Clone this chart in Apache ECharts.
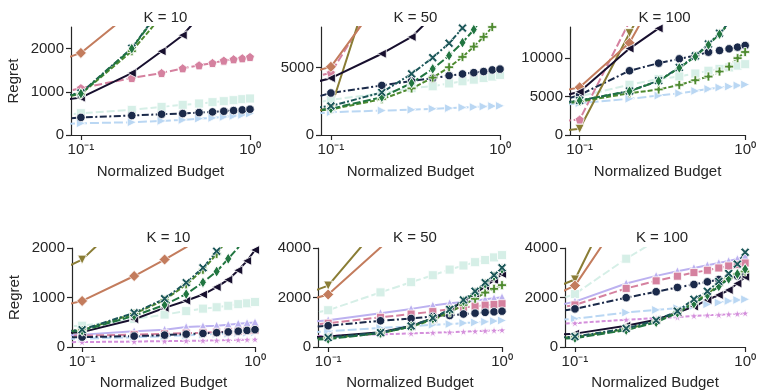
<!DOCTYPE html>
<html>
<head>
<meta charset="utf-8">
<script src="https://cdn.jsdelivr.net/npm/echarts@6/dist/echarts.min.js"></script>
<style>
html,body{margin:0;padding:0;background:#fff;}
#c{width:759px;height:391px;}
</style>
</head>
<body>
<div id="c"></div>
<script>
// ---------- data ----------
const budgets = [0.05, 0.1, 0.2, 0.3, 0.4, 0.5, 0.6, 0.7, 0.8, 0.9, 1.0];
const xTicks = [0.1, 1];
const xTickLabels = ['10\u207B\u00B9', '10\u2070'];
const titles = ['K = 10', 'K = 50', 'K = 100', 'K = 10', 'K = 50', 'K = 100'];
const yMax = [2500, 8000, 14000, 2000, 4000, 4000];
const yTicks = [[0, 1000, 2000], [0, 5000], [0, 5000, 10000], [0, 1000, 2000], [0, 2000, 4000], [0, 2000, 4000]];

// top row, K = 10
const t1_mint  = [385, 504, 581, 651, 698, 729, 760, 783, 806, 829, 845];
const t1_lblue = [230, 271, 295, 326, 349, 380, 395, 419, 442, 465, 496];
const t1_pink  = [800, 1085, 1318, 1434, 1543, 1612, 1667, 1721, 1752, 1775, 1806];
const t1_navy  = [310, 407, 450, 481, 496, 519, 535, 550, 566, 581, 597];
const t1_brown = [1490, 1900, 2850, 3600, 4300, 5000, 5600, 6200, 6800, 7400, 8000];
const t1_black = [720, 865, 1434, 1938, 2310, 2740, 3200, 3650, 4100, 4550, 5000];
const t1_plus  = [740, 950, 1940, 2750, 3500, 4200, 4900, 5500, 6100, 6700, 7300];
const t1_green = [760, 960, 2000, 2930, 3800, 4600, 5400, 6100, 6800, 7500, 8200];
const t1_teal  = [770, 975, 2010, 2950, 3850, 4650, 5450, 6150, 6850, 7550, 8250];

// top row, K = 50
const t2_mint  = [1780, 2610, 3080, 3470, 3610, 3820, 3980, 4100, 4220, 4330, 4450];
const t2_lblue = [1330, 1690, 1810, 1870, 1940, 1990, 2040, 2070, 2110, 2140, 2160];
const t2_pink  = [3720, 4600, 10700, 14000, 16000, 18000, 19500, 21000, 22500, 24000, 25000];
const t2_navy  = [2070, 3110, 3670, 4000, 4210, 4400, 4520, 4620, 4700, 4820, 4880];
const t2_olive = [1200, 2000, 13700, 18000, 21000, 23000, 25000, 27000, 29000, 30000, 31000];
const t2_brown = [4010, 5050, 10200, 13000, 15000, 17000, 18500, 20000, 21500, 23000, 24000];
const t2_black = [3270, 4210, 6020, 7260, 8800, 9700, 10500, 11200, 11800, 12400, 12900];
const t2_plus  = [1500, 1900, 2650, 3450, 4250, 5020, 5780, 6550, 7270, 8000, 8800];
const t2_green = [1550, 1950, 2800, 3850, 4900, 5880, 6850, 7800, 8800, 9800, 10800];
const t2_teal  = [1700, 2150, 3150, 4530, 5730, 6800, 7920, 9000, 10000, 11000, 12000];

// top row, K = 100
const t3_mint  = [3440, 5000, 6510, 7260, 7590, 7970, 8330, 8570, 8760, 9000, 9180];
const t3_lblue = [3500, 4120, 4700, 5110, 5410, 5710, 5970, 6150, 6280, 6420, 6540];
const t3_pink  = [1480, 2000, 14700, 22000, 26000, 29000, 31000, 33000, 35000, 37000, 39000];
const t3_navy  = [3120, 5200, 8330, 9310, 9870, 10300, 10740, 10950, 11170, 11390, 11600];
const t3_olive = [100, 800, 13200, 20000, 24000, 27000, 30000, 32000, 34000, 36000, 38000];
const t3_brown = [4840, 6190, 11950, 18700, 22000, 25000, 27000, 29000, 31000, 33000, 35000];
const t3_black = [4040, 5600, 11200, 13820, 16500, 18500, 20000, 21500, 23000, 24500, 26000];
const t3_plus  = [3500, 4330, 5410, 5900, 6490, 7100, 7580, 8230, 8870, 9960, 10760];
const t3_green = [3630, 4460, 5670, 7000, 8700, 10170, 11690, 13080, 14500, 15800, 17000];
const t3_teal  = [3650, 4480, 5700, 7050, 8750, 10250, 11800, 13200, 14600, 15900, 17100];

// bottom row, K = 10
const b1_mint   = [380, 430, 565, 655, 725, 775, 803, 833, 866, 883, 910];
const b1_lblue  = [155, 170, 197, 217, 237, 250, 263, 270, 283, 288, 297];
const b1_lav    = [200, 250, 317, 350, 403, 417, 430, 450, 470, 483, 497];
const b1_orchid = [90, 100, 110, 118, 125, 130, 135, 140, 145, 150, 155];
const b1_pink   = [210, 230, 250, 265, 280, 290, 300, 310, 320, 330, 340];
const b1_navy   = [180, 200, 220, 240, 260, 275, 290, 305, 320, 335, 350];
const b1_olive  = [1270, 1765, 2760, 3500, 4100, 4600, 5000, 5400, 5800, 6100, 6400];
const b1_brown  = [685, 930, 1434, 1767, 2018, 2250, 2450, 2650, 2850, 3000, 3150];
const b1_black  = [250, 300, 560, 790, 935, 1060, 1210, 1360, 1550, 1740, 1960];
const b1_plus   = [250, 340, 670, 950, 1260, 1560, 1880, 2200, 2500, 2800, 3100];
const b1_green  = [250, 330, 630, 850, 1070, 1305, 1525, 1783, 2010, 2300, 2600];
const b1_teal   = [250, 350, 690, 975, 1300, 1600, 1935, 2250, 2550, 2850, 3100];

// bottom row, K = 50
const b2_mint   = [1060, 1485, 2207, 2620, 2900, 3127, 3293, 3427, 3513, 3620, 3713];
const b2_lblue  = [500, 633, 767, 833, 900, 927, 967, 993, 1020, 1047, 1073];
const b2_lav    = [870, 1085, 1367, 1540, 1673, 1767, 1820, 1873, 1927, 1967, 2007];
const b2_orchid = [400, 450, 510, 550, 580, 600, 620, 640, 655, 670, 685];
const b2_pink   = [780, 960, 1200, 1330, 1430, 1530, 1600, 1650, 1690, 1720, 1750];
const b2_navy   = [700, 860, 1060, 1153, 1233, 1273, 1333, 1367, 1400, 1420, 1447];
const b2_olive  = [1700, 2480, 4970, 6500, 7500, 8300, 9000, 9600, 10100, 10600, 11000];
const b2_brown  = [1530, 2120, 4020, 5200, 6000, 6700, 7300, 7800, 8300, 8700, 9100];
const b2_black  = [330, 420, 600, 850, 1150, 1500, 1850, 2150, 2450, 2700, 2950];
const b2_plus   = [280, 350, 560, 820, 1100, 1400, 1700, 1950, 2200, 2350, 2500];
const b2_green  = [250, 320, 560, 830, 1150, 1500, 1850, 2200, 2550, 2850, 3150];
const b2_teal   = [300, 380, 580, 850, 1170, 1520, 1900, 2250, 2600, 2900, 3200];

// bottom row, K = 100
const b3_mint   = [1450, 2140, 3567, 4300, 4900, 5400, 5800, 6200, 6500, 6800, 7100];
const b3_lblue  = [1000, 1140, 1393, 1500, 1567, 1660, 1727, 1793, 1860, 1900, 1927];
const b3_lav    = [1400, 1833, 2567, 2873, 3060, 3193, 3300, 3393, 3473, 3553, 3660];
const b3_orchid = [880, 967, 1100, 1167, 1207, 1260, 1287, 1300, 1327, 1340, 1367];
const b3_pink   = [1350, 1700, 2367, 2673, 2860, 3007, 3100, 3193, 3273, 3327, 3393];
const b3_navy   = [1250, 1540, 1993, 2233, 2407, 2527, 2633, 2727, 2807, 2873, 2927];
const b3_olive  = [1900, 2727, 6940, 9000, 10500, 11700, 12700, 13600, 14400, 15100, 15800];
const b3_brown  = [1540, 2480, 5550, 7500, 8800, 9900, 10800, 11600, 12300, 13000, 13600];
const b3_black  = [420, 540, 860, 1100, 1393, 1633, 1900, 2100, 2300, 2567, 2833];
const b3_plus   = [290, 400, 720, 1020, 1400, 1800, 2150, 2500, 2800, 2950, 3050];
const b3_green  = [260, 360, 680, 1000, 1380, 1750, 2100, 2450, 2750, 2950, 3150];
const b3_teal   = [300, 420, 750, 1080, 1450, 1930, 2250, 2650, 2970, 3350, 3830];

// ---------- styles ----------
const P_X = 'path://M2,0 L5,3 L8,0 L10,2 L7,5 L10,8 L8,10 L5,7 L2,10 L0,8 L3,5 L0,2 Z';
const P_PLUS = 'path://M3.5,0 L6.5,0 L6.5,3.5 L10,3.5 L10,6.5 L6.5,6.5 L6.5,10 L3.5,10 L3.5,6.5 L0,6.5 L0,3.5 L3.5,3.5 Z';
const P_STAR = 'path://M5,0 L6.18,3.38 L9.76,3.45 L6.9,5.62 L7.94,9.05 L5,7 L2.06,9.05 L3.1,5.62 L0.24,3.45 L3.82,3.38 Z';
const P_PENT = 'path://M5,0 L9.76,3.45 L7.94,9.05 L2.06,9.05 L0.24,3.45 Z';

const STY = {
  mint:   {color:'#d6efe7', symbol:'rect', size:9, dash:[8,3]},
  lblue:  {color:'#bad7f3', symbol:'triangle', rot:-90, size:9, dash:[9,3]},
  lav:    {color:'#bcb1f0', symbol:'triangle', size:9, dash:'solid'},
  orchid: {color:'#d48fdb', symbol:P_STAR, size:8, dash:[4,2]},
  pink:   {color:'#d5819f', symbol:P_PENT, size:9, dash:[8,3]},
  pinkB:  {color:'#d5819f', symbol:'rect', size:8, dash:[8,3]},
  navy:   {color:'#1b2a4a', symbol:'circle', size:8.5, dash:[7,2.5,2,2.5]},
  olive:  {color:'#8a7d35', symbol:'triangle', rot:180, size:9, dash:'solid'},
  brown:  {color:'#c37c5d', symbol:'diamond', size:11, dash:'solid'},
  black:  {color:'#170f2e', symbol:'triangle', rot:90, size:9, dash:'solid'},
  plus:   {color:'#4e8a2f', symbol:P_PLUS, size:9, dash:[5,2]},
  green:  {color:'#217540', symbol:'diamond', size:[7,11], dash:[8,2.5]},
  teal:   {color:'#1c5759', symbol:P_X, size:9, dash:[6,2,2,2]}
};

function mk(values, key, gi) {
  const s = STY[key];
  return {
    type: 'line', xAxisIndex: gi, yAxisIndex: gi,
    data: budgets.map((b, i) => [b, values[i]]),
    symbol: s.symbol, symbolSize: s.size, symbolRotate: s.rot || 0,
    showSymbol: true, showAllSymbol: true, clip: true, animation: false,
    lineStyle: {color: s.color, width: 2, type: s.dash},
    itemStyle: {color: s.color, borderColor: '#ffffff', borderWidth: 0.8}
  };
}

const series = [
  mk(t1_mint,'mint',0), mk(t1_lblue,'lblue',0), mk(t1_pink,'pink',0), mk(t1_navy,'navy',0),
  mk(t1_brown,'brown',0), mk(t1_black,'black',0), mk(t1_teal,'teal',0), mk(t1_plus,'plus',0), mk(t1_green,'green',0),

  mk(t2_mint,'mint',1), mk(t2_lblue,'lblue',1), mk(t2_pink,'pink',1), mk(t2_navy,'navy',1), mk(t2_olive,'olive',1),
  mk(t2_brown,'brown',1), mk(t2_black,'black',1), mk(t2_plus,'plus',1), mk(t2_green,'green',1), mk(t2_teal,'teal',1),

  mk(t3_mint,'mint',2), mk(t3_lblue,'lblue',2), mk(t3_pink,'pink',2), mk(t3_navy,'navy',2), mk(t3_olive,'olive',2),
  mk(t3_brown,'brown',2), mk(t3_black,'black',2), mk(t3_plus,'plus',2), mk(t3_teal,'teal',2), mk(t3_green,'green',2),

  mk(b1_mint,'mint',3), mk(b1_lblue,'lblue',3), mk(b1_lav,'lav',3), mk(b1_orchid,'orchid',3), mk(b1_pink,'pinkB',3),
  mk(b1_navy,'navy',3), mk(b1_olive,'olive',3), mk(b1_brown,'brown',3), mk(b1_black,'black',3),
  mk(b1_plus,'plus',3), mk(b1_green,'green',3), mk(b1_teal,'teal',3),

  mk(b2_mint,'mint',4), mk(b2_lblue,'lblue',4), mk(b2_lav,'lav',4), mk(b2_orchid,'orchid',4), mk(b2_pink,'pinkB',4),
  mk(b2_navy,'navy',4), mk(b2_olive,'olive',4), mk(b2_brown,'brown',4), mk(b2_black,'black',4),
  mk(b2_plus,'plus',4), mk(b2_green,'green',4), mk(b2_teal,'teal',4),

  mk(b3_mint,'mint',5), mk(b3_lblue,'lblue',5), mk(b3_lav,'lav',5), mk(b3_orchid,'orchid',5), mk(b3_pink,'pinkB',5),
  mk(b3_navy,'navy',5), mk(b3_olive,'olive',5), mk(b3_brown,'brown',5), mk(b3_black,'black',5),
  mk(b3_plus,'plus',5), mk(b3_green,'green',5), mk(b3_teal,'teal',5)
];

// ---------- layout ----------
const FONT = 'Liberation Sans, Arial, sans-serif';
const TXT = '#262626';
const grids = [
  {left: 71, top: 27, width: 179, height: 108},
  {left: 321, top: 27, width: 179, height: 108},
  {left: 570, top: 27, width: 179, height: 108},
  {left: 72, top: 248, width: 183, height: 100},
  {left: 318, top: 248, width: 184, height: 100},
  {left: 565, top: 248, width: 184, height: 100}
];

const axisLineStyle = {color: '#262626', width: 1.2};
const xAxes = grids.map((g, i) => ({
  type: 'log', logBase: 10, gridIndex: i, min: 0.0874, max: 1,
  axisLine: {show: true, onZero: false, lineStyle: axisLineStyle},
  axisTick: {show: true, length: 5, inside: false, customValues: xTicks, lineStyle: axisLineStyle},
  minorTick: {show: false}, splitLine: {show: false}, minorSplitLine: {show: false},
  axisLabel: {
    customValues: xTicks, fontSize: 15, color: TXT, fontFamily: FONT, margin: 7,
    formatter: v => (Math.abs(v - 0.1) < 1e-6 ? xTickLabels[0] : (Math.abs(v - 1) < 1e-6 ? xTickLabels[1] : ''))
  },
  name: 'Normalized Budget', nameLocation: 'middle', nameGap: i < 3 ? 29 : 28,
  nameTextStyle: {fontSize: 15, color: TXT, fontFamily: FONT}
}));

const yAxes = grids.map((g, i) => ({
  type: 'value', gridIndex: i, min: 0, max: yMax[i],
  interval: yTicks[i][1] - yTicks[i][0],
  axisLine: {show: true, lineStyle: axisLineStyle},
  axisTick: {show: true, length: 5, customValues: yTicks[i], lineStyle: axisLineStyle},
  splitLine: {show: false},
  axisLabel: {customValues: yTicks[i], fontSize: 15, color: TXT, fontFamily: FONT, margin: 7,
    formatter: v => String(Math.round(v))},
  name: (i === 0 || i === 3) ? 'Regret' : '', nameLocation: 'middle', nameGap: 50,
  nameTextStyle: {fontSize: 15, color: TXT, fontFamily: FONT}
}));

const titleOpts = grids.map((g, i) => ({
  text: titles[i], left: g.left + g.width / 2, top: i < 3 ? 5 : 225, textAlign: 'center',
  textStyle: {fontSize: 15, fontWeight: 'normal', color: TXT, fontFamily: FONT}
}));

const chart = echarts.init(document.getElementById('c'), null, {renderer: 'canvas'});
chart.setOption({
  backgroundColor: '#ffffff',
  animation: false,
  title: titleOpts,
  grid: grids,
  xAxis: xAxes,
  yAxis: yAxes,
  series: series
});
</script>
</body>
</html>
